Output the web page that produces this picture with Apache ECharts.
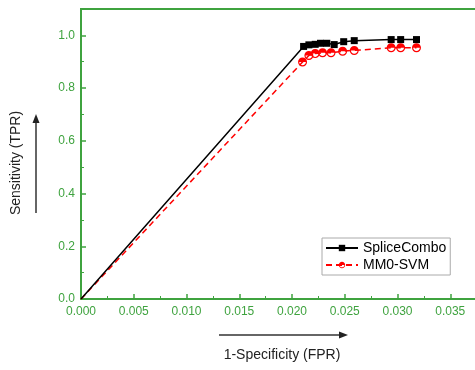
<!DOCTYPE html>
<html>
<head>
<meta charset="utf-8">
<script src="https://cdn.jsdelivr.net/npm/echarts@6/dist/echarts.min.js"></script>
<style>
  html, body { margin: 0; padding: 0; background: #fff; }
  #roc { width: 475px; height: 370px; }
</style>
</head>
<body>
<div id="roc"></div>
<script>
// ROC 数据
var spliceFpr = [0, 0.0211, 0.0216, 0.0222, 0.0227, 0.0233, 0.0240, 0.0249, 0.0259, 0.0294, 0.0303, 0.0318];
var spliceTpr = [0, 0.958, 0.964, 0.966, 0.970, 0.970, 0.965, 0.976, 0.980, 0.984, 0.984, 0.984];
var mm0Fpr = [0, 0.0210, 0.0216, 0.0222, 0.0229, 0.0237, 0.0248, 0.0259, 0.0294, 0.0303, 0.0318];
var mm0Tpr = [0, 0.899, 0.924, 0.931, 0.934, 0.934, 0.940, 0.943, 0.953, 0.953, 0.953];

var green = '#3fa33f';
var font = 'Liberation Sans, Arial, sans-serif';

function pairs(xs, ys) {
    var out = [];
    for (var i = 0; i < xs.length; i++) {
        if (i === 0) {
            out.push({ value: [xs[i], ys[i]], symbolSize: 0 });
        } else {
            out.push([xs[i], ys[i]]);
        }
    }
    return out;
}

// 上半实心的圆 (下半只留一圈边)
var halfCircle = 'path://M-10 0C-10 -5.523 -5.523 -10 0 -10C5.523 -10 10 -5.523 10 0Z' +
    'M10 0C10 5.523 5.523 10 0 10C-5.523 10 -10 5.523 -10 0L-7.4 0' +
    'C-7.4 4.09 -4.09 7.4 0 7.4C4.09 7.4 7.4 4.09 7.4 0Z';

var myChart = echarts.init(document.getElementById('roc'));
var option = {
    animation: false,
    textStyle: { fontFamily: font },
    grid: {
        left: 81, top: 9, bottom: 71, right: -28,
        outerBoundsMode: 'none',
        containLabel: false,
        show: true,
        borderColor: green,
        borderWidth: 2
    },
    legend: {
        orient: 'vertical',
        left: 322,
        top: 238,
        padding: [3, 4, 3, 3],
        itemGap: 3,
        itemWidth: 32,
        itemHeight: 8,
        borderColor: '#aaa',
        borderWidth: 1,
        backgroundColor: '#fff',
        textStyle: { fontSize: 14, color: '#000', fontFamily: font },
        data: ['SpliceCombo', 'MM0-SVM']
    },
    xAxis: {
        type: 'value',
        min: 0,
        max: 0.04,
        interval: 0.005,
        axisLine: { lineStyle: { color: green, width: 2 } },
        axisTick: { inside: true, length: 5, lineStyle: { color: green, width: 1.5 } },
        minorTick: { show: true, splitNumber: 2, length: 3, lineStyle: { color: green } },
        splitLine: { show: false },
        axisLabel: {
            color: green,
            fontSize: 12,
            margin: 7,
            formatter: function (v) { return v.toFixed(3); }
        }
    },
    yAxis: {
        type: 'value',
        min: 0,
        max: 1.1,
        interval: 0.2,
        axisLine: { lineStyle: { color: green, width: 2 } },
        axisTick: { inside: true, length: 5, lineStyle: { color: green, width: 1.5 } },
        minorTick: { show: true, splitNumber: 2, length: 3, lineStyle: { color: green } },
        splitLine: { show: false },
        axisLabel: {
            color: green,
            fontSize: 12,
            margin: 6,
            showMaxLabel: false,
            formatter: function (v) { return v.toFixed(1); }
        }
    },
    series: [
        {
            name: 'SpliceCombo',
            type: 'line',
            z: 3,
            symbol: 'rect',
            symbolSize: 7,
            color: '#000',
            lineStyle: { color: '#000', width: 1.5 },
            itemStyle: { color: '#000' },
            data: pairs(spliceFpr, spliceTpr)
        },
        {
            name: 'MM0-SVM',
            type: 'line',
            z: 2,
            symbol: halfCircle,
            symbolSize: 9,
            color: '#ff0000',
            lineStyle: { color: '#ff0000', width: 1.5, type: [6, 4] },
            itemStyle: { color: '#ff0000', borderWidth: 0 },
            data: pairs(mm0Fpr, mm0Tpr)
        }
    ],
    graphic: [
        {
            type: 'text',
            x: 16, y: 163,
            rotation: Math.PI / 2,
            style: {
                text: 'Sensitivity (TPR)',
                fill: '#222',
                font: '14px ' + font,
                textAlign: 'center',
                textVerticalAlign: 'middle'
            }
        },
        {
            type: 'line',
            shape: { x1: 36, y1: 213, x2: 36, y2: 121 },
            style: { stroke: '#333', lineWidth: 1.5 }
        },
        {
            type: 'polygon',
            shape: { points: [[36, 114], [32.5, 123], [39.5, 123]] },
            style: { fill: '#222' }
        },
        {
            type: 'text',
            x: 282, y: 355,
            style: {
                text: '1-Specificity (FPR)',
                fill: '#222',
                font: '14px ' + font,
                textAlign: 'center',
                textVerticalAlign: 'middle'
            }
        },
        {
            type: 'line',
            shape: { x1: 219, y1: 335, x2: 341, y2: 335 },
            style: { stroke: '#333', lineWidth: 1.5 }
        },
        {
            type: 'polygon',
            shape: { points: [[348, 335], [339, 331.5], [339, 338.5]] },
            style: { fill: '#222' }
        }
    ]
};
// 绘制图表
myChart.setOption(option);
</script>
</body>
</html>
